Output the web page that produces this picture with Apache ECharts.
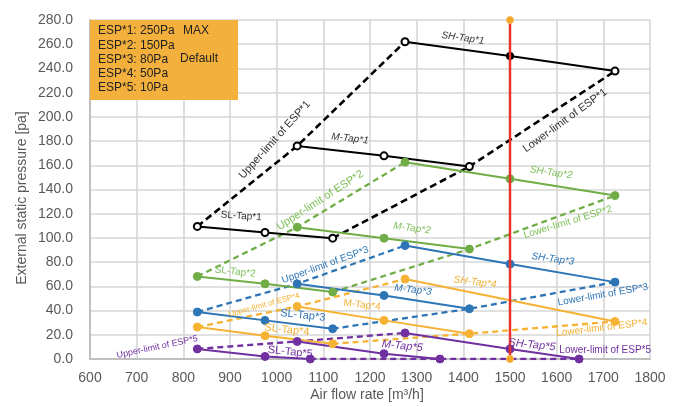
<!DOCTYPE html>
<html><head><meta charset="utf-8">
<script src="https://cdn.jsdelivr.net/npm/echarts@6/dist/echarts.min.js"></script>
<style>html,body{margin:0;padding:0;background:#fff}#c{width:677px;height:407px}</style>
</head><body><div id="c"></div>
<script>
// ---- data (airflow m3/h, pressure Pa) ----
const xTicks = [600,700,800,900,1000,1100,1200,1300,1400,1500,1600,1700,1800];
const yTicks = [0,20,40,60,80,100,120,140,160,180,200,220,240,260,280];
const slTap1 = [[830,109.5],[975,104.5],[1120,99.8]];
const mTap1  = [[1044,176],[1230,167.8],[1413,159]];
const shTap1 = [[1275,262],[1500,250.3],[1725,237.8]];
const upper1 = [[830,109.5],[1044,176],[1275,262]];
const lower1 = [[1120,99.8],[1413,159],[1725,237.8]];
const slTap2 = [[830,68.2],[975,62.1],[1120,55.3]];
const mTap2  = [[1044,108.9],[1230,99.8],[1413,90.8]];
const shTap2 = [[1275,162.6],[1500,148.8],[1725,135]];
const upper2 = [[830,68.2],[1044,108.9],[1275,162.6]];
const lower2 = [[1120,55.3],[1413,90.8],[1725,135]];
const slTap3 = [[830,38.8],[975,31.9],[1120,25]];
const mTap3  = [[1044,62.1],[1230,52.5],[1413,41.5]];
const shTap3 = [[1275,93.7],[1500,78.4],[1725,63.5]];
const upper3 = [[830,38.8],[1044,62.1],[1275,93.7]];
const lower3 = [[1120,25],[1413,41.5],[1725,63.5]];
const slTap4 = [[830,26.4],[975,19.2],[1120,12.6]];
const mTap4  = [[1044,43.4],[1230,31.9],[1413,20.9]];
const shTap4 = [[1275,66],[1725,31]];
const upper4 = [[830,26.4],[1044,43.4],[1275,66]];
const lower4 = [[1120,12.6],[1413,20.9],[1725,31]];
const slTap5 = [[830,8.3],[975,2.1],[1072,0]];
const mTap5  = [[1044,14.5],[1230,4.4],[1350,0]];
const shTap5 = [[1275,21.5],[1500,8.3],[1648,0]];
const upper5 = [[830,8.3],[1044,14.5],[1275,21.5]];
const lower5 = [[1072,0],[1350,0],[1648,0]];
const refLine = [[1500,0],[1500,280]];
const espText = ['ESP*1: 250Pa','ESP*2: 150Pa','ESP*3: 80Pa','ESP*4: 50Pa','ESP*5: 10Pa'];

const C = {k:'#000000', g:'#70ad47', b:'#2e75b6', o:'#f5b233', p:'#7030a0'};
const FONT = 'Liberation Sans, Arial, sans-serif';

function solid(data, col, hollow){
  return {type:'line', data:data.map(d=>{
      const o={value:d};
      if(hollow && d[0]===1500){o.symbolSize=6;o.itemStyle={color:col,borderColor:col};}
      return o;}),
    symbol:'circle', symbolSize:hollow?7:8, z:3,
    lineStyle:{color:col,width:2},
    itemStyle: hollow?{color:'#fff',borderColor:col,borderWidth:2}:{color:col,borderColor:col,borderWidth:1},
    animation:false};
}
function dashed(data, col, hollow){
  return {type:'line', data:data, symbol:'none', z:2,
    lineStyle:{color:col,width:hollow?2.6:2.3,type:hollow?[7,4]:[6,4]}, animation:false};
}
const groups = [
  [slTap1,mTap1,shTap1,upper1,lower1,C.k,true],
  [slTap2,mTap2,shTap2,upper2,lower2,C.g,false],
  [slTap3,mTap3,shTap3,upper3,lower3,C.b,false],
  [slTap4,mTap4,shTap4,upper4,lower4,C.o,false],
  [slTap5,mTap5,shTap5,upper5,lower5,C.p,false]
];
const series=[];
groups.forEach(g=>{
  series.push(dashed(g[3],g[5],g[6]));
  series.push(dashed(g[4],g[5],g[6]));
  series.push(solid(g[0],g[5],g[6]));
  series.push(solid(g[1],g[5],g[6]));
  series.push(solid(g[2],g[5],g[6]));
});
series.push({type:'line',data:refLine,symbol:'circle',symbolSize:7,z:4,
  lineStyle:{color:'#e8332c',width:2.5},itemStyle:{color:'#f5a623',borderColor:'#f7b85a',borderWidth:1},animation:false});

const chart = echarts.init(document.getElementById('c'),null,{renderer:'canvas'});
chart.setOption({
  animation:false,
  grid:{left:90,right:27,top:20,bottom:48,containLabel:false},
  xAxis:{type:'value',min:xTicks[0],max:xTicks[xTicks.length-1],interval:100,
    axisLine:{lineStyle:{color:'#bfbfbf',width:2}},axisTick:{show:false},
    axisLabel:{color:'#595959',fontSize:14,fontFamily:FONT,margin:12,formatter:v=>String(v)},
    splitLine:{show:true,lineStyle:{color:'#d6d6d6',width:1.6}}},
  yAxis:{type:'value',min:yTicks[0],max:yTicks[yTicks.length-1],interval:20,
    axisLine:{show:true,lineStyle:{color:'#bfbfbf',width:2}},axisTick:{show:false},
    axisLabel:{color:'#595959',fontSize:14,fontFamily:FONT,margin:17,formatter:v=>v.toFixed(1)},
    splitLine:{show:true,lineStyle:{color:'#d6d6d6',width:1.6}}},
  series:series
});

// annotations: [text, x, y (data coords), rotation deg, colour, size, italic]
const notes = [
  ['SH-Tap*1',1399,265,-8,'#333',10,true],
  ['M-Tap*1',1157,182,-7,'#333',10,true],
  ['SL-Tap*1',924,118,-4,'#333',10,false],
  ['Upper-limit of ESP*1',996,181,48,'#333',11,false],
  ['Lower-limit of ESP*1',1618,197,36,'#333',11,false],
  ['SH-Tap*2',1588,154,-8,'#7cbf55',10,true],
  ['M-Tap*2',1290,108,-8,'#7cbf55',10,true],
  ['SL-Tap*2',911,72,-6,'#7cbf55',10,false],
  ['Upper-limit of ESP*2',1093,131,33,'#7cbf55',11,false],
  ['Lower-limit of ESP*2',1624,113,17,'#7cbf55',10,false],
  ['SH-Tap*3',1592,82.5,-8,'#2e75b6',10,true],
  ['M-Tap*3',1292,57,-7,'#2e75b6',10,true],
  ['SL-Tap*3',1056,36,-6,'#2e75b6',11,false],
  ['Upper-limit of ESP*3',1104,77.6,20,'#2e75b6',10,false],
  ['Lower-limit of ESP*3',1699,53,10,'#2e75b6',10,false],
  ['SH-Tap*4',1425,63.5,-7,'#f2b134',10,true],
  ['M-Tap*4',1183,44.6,-7,'#f2b134',10,false],
  ['SL-Tap*4',1022,24,-6,'#f2b134',11,false],
  ['Upper-limit of ESP*4',973,44.6,15,'#f2b134',8,false],
  ['Lower-limit of ESP*4',1697,25.6,7,'#f2b134',10,false],
  ['SH-Tap*5',1547,11.6,-6,'#7030a0',11,true],
  ['M-Tap*5',1269,10.7,-6,'#7030a0',11,true],
  ['SL-Tap*5',1029,5.8,-6,'#7030a0',11,false],
  ['Upper-limit of ESP*5',744,9.9,12,'#7030a0',9,false],
  ['Lower-limit of ESP*5',1704,7.4,0,'#7030a0',10,false]
];
const gfx=[];
notes.forEach(n=>{
  const p = chart.convertToPixel({gridIndex:0},[n[1],n[2]]);
  gfx.push({type:'text',x:p[0],y:p[1],rotation:n[3]*Math.PI/180,z:10,
    style:{text:n[0],fill:n[4],font:(n[6]?'italic ':'')+n[5]+'px '+FONT,align:'center',verticalAlign:'middle'}});
});
// info box
const tl = chart.convertToPixel({gridIndex:0},[600,280]);
gfx.push({type:'rect',x:tl[0],y:tl[1],shape:{x:0,y:0,width:148,height:80},style:{fill:'#f4b03c'},z:20});
espText.forEach((t,i)=>{
  gfx.push({type:'text',x:tl[0]+8,y:tl[1]+11+i*14.2,z:21,
    style:{text:t,fill:'#222',font:'12px '+FONT,verticalAlign:'middle'}});
});
gfx.push({type:'text',x:tl[0]+93,y:tl[1]+11,z:21,style:{text:'MAX',fill:'#222',font:'12px '+FONT,verticalAlign:'middle'}});
gfx.push({type:'text',x:tl[0]+90,y:tl[1]+39,z:21,style:{text:'Default',fill:'#222',font:'12px '+FONT,verticalAlign:'middle'}});
// axis titles
gfx.push({type:'text',x:22,y:198,rotation:Math.PI/2,z:10,
  style:{text:'External static pressure [pa]',fill:'#595959',font:'14px '+FONT,align:'center',verticalAlign:'middle'}});
gfx.push({type:'text',x:367,y:395,z:10,
  style:{text:'Air flow rate [m³/h]',fill:'#595959',font:'14px '+FONT,align:'center',verticalAlign:'middle'}});
chart.setOption({graphic:gfx});
</script></body></html>
